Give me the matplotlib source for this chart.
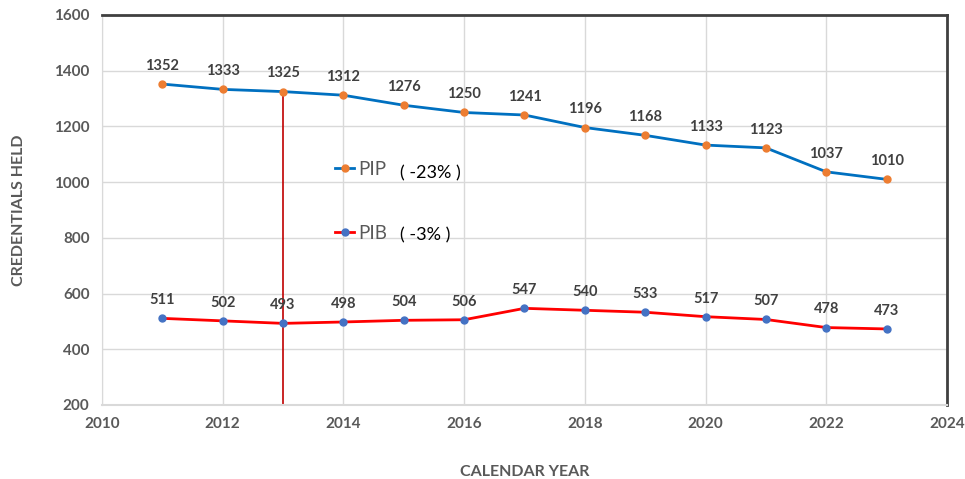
import matplotlib.pyplot as plt

years = [2011, 2012, 2013, 2014, 2015, 2016, 2017, 2018, 2019, 2020, 2021, 2022, 2023]
pip = [1352, 1333, 1325, 1312, 1276, 1250, 1241, 1196, 1168, 1133, 1123, 1037, 1010]
pib = [511, 502, 493, 498, 504, 506, 547, 540, 533, 517, 507, 478, 473]
marker_year = 2013

plt.rcParams['font.family'] = ['Lato', 'DejaVu Sans']

fig = plt.figure(figsize=(9.65, 4.79), dpi=100)
ax = fig.add_axes([0.1057, 0.1545, 0.8756, 0.8142])

ax.plot(years, pip, color='#0070C0', lw=2, marker='o', ms=5,
        mfc='#ED7D31', mec='#ED7D31', label='PIP', zorder=3)
ax.plot(years, pib, color='#FF0000', lw=2, marker='o', ms=5,
        mfc='#4472C4', mec='#4472C4', label='PIB', zorder=3)

for x, y in zip(years, pip):
    ax.annotate(str(y), (x, y), xytext=(0, 8), textcoords='offset points',
                ha='center', va='bottom', fontsize=10.5, fontweight='bold', color='#404040')
for x, y in zip(years, pib):
    ax.annotate(str(y), (x, y), xytext=(0, 8), textcoords='offset points',
                ha='center', va='bottom', fontsize=10.5, fontweight='bold', color='#404040')

# vertical marker line
ax.plot([marker_year, marker_year], [200, pip[years.index(marker_year)]],
        color='#C00000', lw=1.2, zorder=2)

ax.set_xlim(2010, 2024)
ax.set_ylim(200, 1600)
ax.set_xticks(range(2010, 2025, 2))
ax.set_yticks(range(200, 1601, 200))
ax.grid(True, color='#D9D9D9', lw=1)
ax.set_axisbelow(True)
ax.tick_params(length=0, labelsize=11, labelcolor='#595959', pad=9)
for lab in ax.get_xticklabels() + ax.get_yticklabels():
    lab.set_fontweight('bold')

ax.spines['top'].set_color('#404040')
ax.spines['top'].set_linewidth(2)
ax.spines['right'].set_color('#404040')
ax.spines['right'].set_linewidth(2)
ax.spines['left'].set_color('#D9D9D9')
ax.spines['bottom'].set_color('#D9D9D9')
ax.spines['bottom'].set_linewidth(1.5)

ax.set_xlabel('CALENDAR YEAR', fontsize=11.5, fontweight='bold', color='#595959', labelpad=24)
ax.set_ylabel('CREDENTIALS HELD', fontsize=11.5, fontweight='bold', color='#595959', labelpad=20)

leg = ax.legend(loc='upper left', bbox_to_anchor=(0.265, 0.65), frameon=False,
                fontsize=13.5, labelspacing=2.5, handlelength=1.0, handletextpad=0.2,
                borderpad=0)
for t in leg.get_texts():
    t.set_color('#595959')

fig.text(400 / 965, 1 - 173 / 479, '( -23% )', fontsize=13, va='center', color='black')
fig.text(400 / 965, 1 - 235 / 479, '( -3% )', fontsize=13, va='center', color='black')

fig.savefig('out.png', dpi=100)
